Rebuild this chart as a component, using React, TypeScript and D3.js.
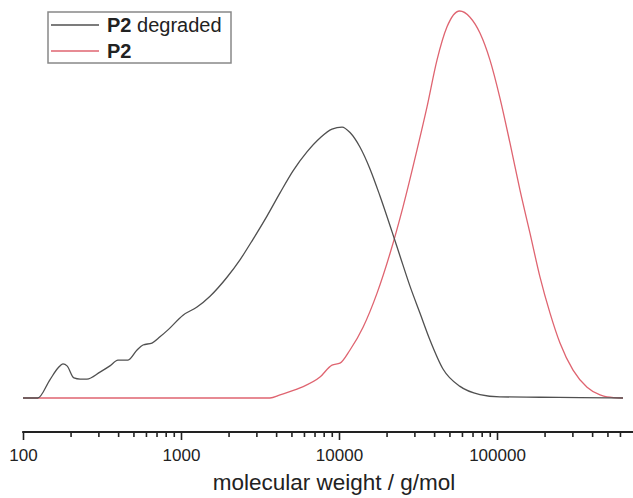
import React, { useRef, useEffect } from 'react';
import * as d3 from 'd3';

// molecular weight (g/mol) and normalised detector signal
const degradedMw = [100, 124, 148, 167, 179, 190, 210, 230, 254, 307, 355, 399, 462, 527, 575, 655, 736, 827, 1030, 1263, 1527, 1955, 2362, 2855, 3501, 4234, 5118, 6270, 7580, 9030, 10450, 11740, 13590, 15710, 18170, 21650, 24320, 28130, 32570, 37640, 45520, 58330, 78000, 104400, 187000, 335000, 627000];
const degradedSignal = [0, 0, 0.047, 0.078, 0.088, 0.083, 0.052, 0.049, 0.049, 0.067, 0.083, 0.098, 0.098, 0.124, 0.137, 0.142, 0.158, 0.176, 0.214, 0.235, 0.263, 0.312, 0.357, 0.41, 0.47, 0.53, 0.587, 0.636, 0.672, 0.695, 0.7, 0.686, 0.648, 0.592, 0.522, 0.43, 0.367, 0.289, 0.219, 0.15, 0.075, 0.03, 0.009, 0.003, 0.002, 0.001, 0];

const p2Mw = [100, 3656, 4234, 5665, 7580, 9030, 10140, 11740, 14200, 17410, 21050, 25420, 31170, 36060, 41700, 48270, 58000, 67450, 78000, 90300, 104400, 120800, 139800, 161700, 187000, 216300, 250400, 302900, 371500, 448800, 496700, 627000];
const p2Signal = [0, 0, 0.008, 0.026, 0.054, 0.085, 0.09, 0.124, 0.183, 0.271, 0.374, 0.494, 0.641, 0.752, 0.873, 0.959, 1.0, 0.984, 0.943, 0.873, 0.775, 0.659, 0.537, 0.426, 0.313, 0.22, 0.142, 0.072, 0.028, 0.008, 0.003, 0];

const majorTicks = [100, 1000, 10000, 100000];
const seriesNames = ['P2 degraded', 'P2'];
const seriesColors = ['#505050', '#df6470'];

const width = 633;
const height = 498;

const App = () => {
  const ref = useRef(null);

  useEffect(() => {
    const svg = d3.select(ref.current);
    svg.selectAll('*').remove();

    const x = d3.scaleLog().domain([100, 1e6]).range([23, 655]);
    const y = d3.scaleLinear().domain([0, 1]).range([398, 11]);
    const axisY = 432;
    const font = 'Liberation Sans, Arial, sans-serif';

    const line = d3
      .line<[number, number]>()
      .x(d => x(d[0]))
      .y(d => y(d[1]))
      .curve(d3.curveMonotoneX);

    const series = [
      d3.zip(degradedMw, degradedSignal),
      d3.zip(p2Mw, p2Signal)
    ];

    // draw red first so the black sits on top like the original
    [1, 0].forEach(i => {
      svg
        .append('path')
        .datum(series[i])
        .attr('d', line)
        .attr('fill', 'none')
        .attr('stroke', seriesColors[i])
        .attr('stroke-width', 1.3);
    });

    // x axis: minor ticks, then majors with labels
    const minor = x.ticks().filter(v => v <= 600000 && !majorTicks.includes(v));
    const minorAxis = d3.axisBottom(x).tickValues(minor).tickSize(5).tickFormat(() => '');
    const majorAxis = d3.axisBottom(x).tickValues(majorTicks).tickSize(8).tickFormat(d3.format('d'));

    const gMinor = svg.append('g').attr('transform', `translate(0,${axisY})`).call(minorAxis);
    gMinor.select('.domain').remove();
    gMinor.selectAll('line').attr('stroke', '#222').attr('stroke-width', 1.6);

    const gMajor = svg.append('g').attr('transform', `translate(0,${axisY})`).call(majorAxis);
    gMajor.select('.domain').remove();
    gMajor.selectAll('line').attr('stroke', '#222').attr('stroke-width', 1.6);
    gMajor
      .selectAll('text')
      .attr('y', 29)
      .attr('dy', 0)
      .attr('fill', '#222')
      .style('font-family', font)
      .style('font-size', '17px');

    svg
      .append('line')
      .attr('x1', x(100) - 0.8)
      .attr('x2', width)
      .attr('y1', axisY)
      .attr('y2', axisY)
      .attr('stroke', '#222')
      .attr('stroke-width', 2);

    svg
      .append('text')
      .attr('x', 334)
      .attr('y', 490)
      .attr('text-anchor', 'middle')
      .attr('fill', '#222')
      .style('font-family', font)
      .style('font-size', '22.5px')
      .text('molecular weight / g/mol');

    // legend
    const legend = svg.append('g');
    legend
      .append('rect')
      .attr('x', 48)
      .attr('y', 12)
      .attr('width', 183)
      .attr('height', 51)
      .attr('fill', 'white')
      .attr('stroke', '#888')
      .attr('stroke-width', 1.5);

    seriesNames.forEach((name, i) => {
      const ly = 25 + i * 26;
      legend
        .append('line')
        .attr('x1', 51)
        .attr('x2', 99)
        .attr('y1', ly)
        .attr('y2', ly)
        .attr('stroke', seriesColors[i])
        .attr('stroke-width', 1.3);
      const [bold, ...rest] = name.split(' ');
      const t = legend
        .append('text')
        .attr('x', 107)
        .attr('y', ly + 7)
        .attr('fill', '#222')
        .style('font-family', font)
        .style('font-size', '20px');
      t.append('tspan').attr('font-weight', 'bold').text(bold);
      if (rest.length) t.append('tspan').text(' ' + rest.join(' '));
    });
  }, []);

  return (
    <svg
      ref={ref}
      width={width}
      height={height}
      style={{ position: 'absolute', left: 0, top: 0, background: 'white' }}
    />
  );
};

export default App;
